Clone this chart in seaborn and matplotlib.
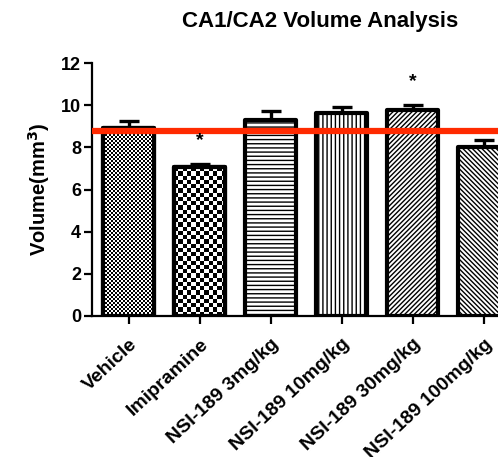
import numpy as np
import pandas as pd
import matplotlib
matplotlib.use("Agg")
import matplotlib.pyplot as plt
import seaborn as sns

# Group means, upper SEM and significance markers
groups = ["Vehicle", "Imipramine", "NSI-189 3mg/kg", "NSI-189 10mg/kg",
          "NSI-189 30mg/kg", "NSI-189 100mg/kg"]
volume = [8.90, 7.06, 9.29, 9.62, 9.76, 8.02]
sem = [0.34, 0.14, 0.41, 0.28, 0.24, 0.32]
significant = [False, True, False, False, True, False]
reference_level = 8.77
y_ticks = [0, 2, 4, 6, 8, 10, 12]

sns.set_theme(style="ticks")
plt.rcParams["font.family"] = ["Liberation Sans", "DejaVu Sans"]
plt.rcParams["font.weight"] = "bold"
plt.rcParams["hatch.linewidth"] = 1.0
plt.rcParams["hatch.color"] = "black"
for key in ("text.color", "axes.labelcolor", "xtick.color", "ytick.color",
            "axes.edgecolor"):
    plt.rcParams[key] = "black"

fig = plt.figure(figsize=(4.98, 4.57), dpi=100)
ax = fig.add_axes([92 / 498, 141 / 457, (498 - 92) / 498, 253 / 457])

df = pd.DataFrame({"group": groups, "volume": volume})
sns.barplot(data=df, x="group", y="volume", hue="group", order=groups,
            hue_order=groups, palette=["white"] * len(groups), width=0.72,
            edgecolor="black", linewidth=3.0, legend=False, errorbar=None,
            ax=ax, zorder=2)

bars = list(ax.patches)
hatches = [None, None, "----", "||||", "///////", "\\\\\\\\\\\\\\"]


def checker(patch, cell_px):
    x0, w = patch.get_x(), patch.get_width()
    h = patch.get_height()
    nx = max(1, int(round(w * 71 / cell_px)))
    ny = max(1, int(round(h * 21.1 / cell_px)))
    grid = (np.add.outer(np.arange(ny), np.arange(nx)) % 2).astype(float)
    img = ax.imshow(grid, cmap="gray", extent=(x0, x0 + w, 0, h),
                    interpolation="nearest", aspect="auto", zorder=2.1)
    img.set_clip_path(patch)


for bar, hatch in zip(bars, hatches):
    bar.set_joinstyle("round")
    if hatch:
        bar.set_hatch(hatch)

checker(bars[0], 2.0)
checker(bars[1], 4.3)
# draw outlines above the checker fills
for bar in bars[:2]:
    outline = plt.Rectangle((bar.get_x(), 0), bar.get_width(), bar.get_height(),
                            fill=False, edgecolor="black", linewidth=3.0,
                            joinstyle="round", zorder=2.2)
    ax.add_patch(outline)

xpos = np.arange(len(groups))
ax.errorbar(xpos, volume, yerr=[np.zeros(len(sem)), sem], fmt="none",
            ecolor="black", elinewidth=2.4, capsize=7, capthick=2.4, zorder=1.5)

ax.axhline(reference_level, color="#ff2a00", linewidth=4.5, zorder=4)

for x, v, s, sig in zip(xpos, volume, sem, significant):
    if sig:
        ax.text(x, v + s + 1.1, "*", ha="center", va="center",
                fontsize=14, fontweight="bold", color="black", zorder=5)

ax.set_xlim(-0.52, 5.2)
ax.set_ylim(0, 12)
ax.set_yticks(y_ticks)
ax.set_yticklabels([str(t) for t in y_ticks], fontsize=13, fontweight="bold")
ax.set_xticks(xpos)
ax.set_xticklabels(groups, rotation=43, ha="right", rotation_mode="anchor",
                   fontsize=14, fontweight="bold")
ax.set_xlabel("")
ax.set_ylabel("Volume(mm$^\\mathbf{3}$)", fontsize=14.5, fontweight="bold",
              labelpad=6)

sns.despine(ax=ax)
for side in ("left", "bottom"):
    ax.spines[side].set_linewidth(1.6)
ax.tick_params(axis="both", direction="out", length=6, width=1.6, colors="black")
ax.tick_params(axis="x", pad=8)
ax.tick_params(axis="y", pad=2)

fig.text(320 / 498, 1 - 22 / 457, "CA1/CA2 Volume Analysis", ha="center",
         va="center", fontsize=16, fontweight="bold")

fig.savefig("out.png", dpi=100, facecolor="white")
